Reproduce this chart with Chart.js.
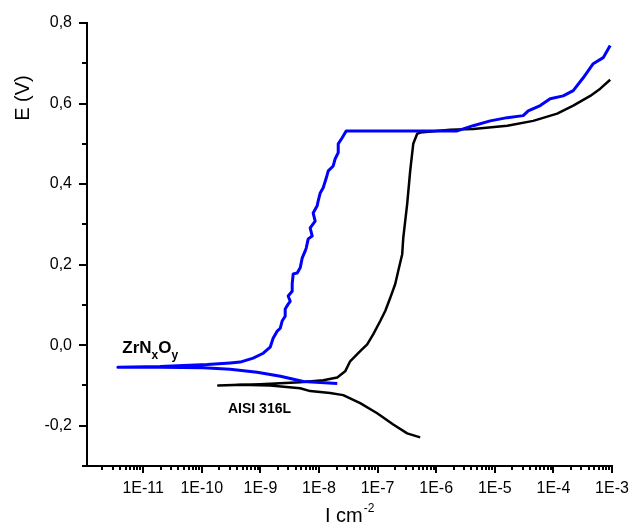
<!DOCTYPE html>
<html>
<head>
<meta charset="utf-8">
<title>Polarization curves</title>
<script src="https://cdn.jsdelivr.net/npm/chart.js@4/dist/chart.umd.min.js"></script>
<style>
  html, body { margin: 0; padding: 0; background: #fff; }
  #wrap { width: 629px; height: 531px; }
</style>
</head>
<body>
<div id="wrap"><canvas id="polChart" width="629" height="531"></canvas></div>
<script>
// ZrNxOy coating: cathodic branch (traced right to left), then anodic branch
var zrnCurrent = [
  2.05e-8, 5.4e-9, 2.2e-9, 8.8e-10, 3.05e-10, 1.06e-10, 1.95e-11, 3.7e-12,
  1.95e-11, 1.24e-10, 3.05e-10, 4.52e-10, 7.53e-10, 1.12e-9, 1.47e-9, 1.65e-9,
  1.94e-9, 2.18e-9, 2.35e-9, 2.65e-9, 2.65e-9, 2.98e-9, 3.23e-9, 2.98e-9,
  3.49e-9, 3.49e-9, 3.63e-9, 4.25e-9, 4.78e-9, 5.16e-9, 5.82e-9, 6.05e-9,
  6.55e-9, 7.66e-9, 7.08e-9, 8.61e-9, 7.96e-9, 9.31e-9, 9.68e-9, 1.05e-8,
  1.18e-8, 1.33e-8, 1.44e-8, 1.75e-8, 1.89e-8, 2.13e-8, 2.13e-8, 2.49e-8,
  2.91e-8, 2.28e-6, 4.28e-6, 8.36e-6, 1.63e-5, 3.05e-5, 3.72e-5, 5.96e-5,
  8.81e-5, 1.47e-4, 2.18e-4, 3.23e-4, 4.78e-4, 7.08e-4, 9.31e-4
];
var zrnPotential = [
  -0.095, -0.090, -0.077, -0.067, -0.060, -0.056, -0.055, -0.055,
  -0.053, -0.048, -0.044, -0.042, -0.032, -0.020, -0.005, 0.017,
  0.035, 0.042, 0.060, 0.072, 0.090, 0.102, 0.109, 0.122,
  0.134, 0.152, 0.177, 0.179, 0.192, 0.216, 0.234, 0.241,
  0.264, 0.271, 0.291, 0.308, 0.328, 0.346, 0.358, 0.378,
  0.391, 0.415, 0.433, 0.445, 0.463, 0.478, 0.500, 0.515,
  0.532, 0.532, 0.545, 0.557, 0.565, 0.570, 0.582, 0.595,
  0.612, 0.619, 0.632, 0.664, 0.699, 0.714, 0.744
];

// AISI 316L substrate: cathodic branch (right to left), then anodic branch
var aisiCurrent = [
  5.33e-7, 3.2e-7, 1.85e-7, 9.84e-8, 5.05e-8, 2.59e-8, 1.55e-8, 7.08e-9,
  4.78e-9, 1.47e-9, 4.52e-10, 1.91e-10,
  9.9e-10, 4.78e-9, 1.18e-8, 2.05e-8, 2.8e-8, 3.4e-8, 5.05e-8, 6.65e-8,
  8.41e-8, 1.11e-7, 1.35e-7, 1.64e-7, 2.0e-7, 2.25e-7, 2.63e-7, 2.74e-7,
  3.2e-7, 3.6e-7, 4.06e-7, 4.74e-7, 5.33e-7, 1.73e-6, 4.28e-6, 1.63e-5,
  4.52e-5, 1.16e-4, 2.18e-4, 4.25e-4, 6.3e-4, 9.31e-4
];
var aisiPotential = [
  -0.229, -0.219, -0.197, -0.169, -0.144, -0.124, -0.119, -0.114,
  -0.107, -0.100, -0.098, -0.100,
  -0.097, -0.092, -0.087, -0.080, -0.065, -0.040, -0.015, 0.002,
  0.027, 0.060, 0.085, 0.117, 0.152, 0.184, 0.226, 0.266,
  0.351, 0.433, 0.500, 0.525, 0.528, 0.535, 0.537, 0.545,
  0.557, 0.575, 0.595, 0.619, 0.637, 0.659
];

var seriesNames = ['ZrNxOy', 'AISI 316L'];
var seriesColors = ['#0000ff', '#000000'];

var FONT = '"Liberation Sans", Arial, sans-serif';

function toPoints(xs, ys) {
  return xs.map(function (x, i) { return { x: x, y: ys[i] }; });
}

function isDecade(v) {
  var l = Math.log10(v);
  return Math.abs(l - Math.round(l)) < 1e-6;
}

// tick marks (long at labelled ticks), axis titles and curve labels
var decorations = {
  id: 'decorations',
  afterDraw: function (chart) {
    var ctx = chart.ctx;
    var xs = chart.scales.x, ys = chart.scales.y;
    ctx.save();
    ctx.strokeStyle = '#000';
    ctx.lineWidth = 2;
    ctx.beginPath();
    xs.ticks.forEach(function (t) {
      var e = Math.floor(Math.log10(t.value) + 1e-9);
      var m = t.value / Math.pow(10, e);
      if (Math.abs(m - Math.round(m)) > 1e-6) return;
      var px = Math.round(xs.getPixelForValue(t.value));
      var len = Math.round(m) === 1 ? 7 : 4;
      ctx.moveTo(px, xs.top);
      ctx.lineTo(px, xs.top + len);
    });
    ys.ticks.forEach(function (t) {
      var k = Math.round(t.value * 10);
      var py = Math.round(ys.getPixelForValue(t.value));
      var len = k % 2 === 0 ? 8 : 5;
      ctx.moveTo(ys.right - len, py);
      ctx.lineTo(ys.right, py);
    });
    ctx.stroke();

    ctx.fillStyle = '#000';
    // y title
    ctx.save();
    ctx.translate(23, 98);
    ctx.rotate(-Math.PI / 2);
    ctx.font = '20px ' + FONT;
    ctx.textAlign = 'center';
    ctx.textBaseline = 'middle';
    ctx.fillText('E (V)', 0, 0);
    ctx.restore();

    // x title with superscript
    ctx.textAlign = 'left';
    ctx.textBaseline = 'alphabetic';
    ctx.font = '20px ' + FONT;
    var base = 'I cm';
    var bx = 325, by = 522;
    ctx.fillText(base, bx, by);
    var w = ctx.measureText(base).width;
    ctx.font = '12px ' + FONT;
    ctx.fillText('-2', bx + w + 1, by - 10);

    // curve labels
    var lx = xs.getPixelForValue(4.4e-12), ly = ys.getPixelForValue(-0.02);
    var parts = [['ZrN', 17, 0], ['x', 12, 6], ['O', 17, 0], ['y', 12, 6]];
    parts.forEach(function (p) {
      ctx.font = 'bold ' + p[1] + 'px ' + FONT;
      ctx.fillText(p[0], lx, ly + p[2]);
      lx += ctx.measureText(p[0]).width;
    });
    ctx.font = 'bold 14px ' + FONT;
    ctx.fillText('AISI 316L', xs.getPixelForValue(2.8e-10), ys.getPixelForValue(-0.169));
    ctx.restore();
  }
};

new Chart(document.getElementById('polChart'), {
  type: 'scatter',
  data: {
    datasets: [
      {
        label: seriesNames[0],
        data: toPoints(zrnCurrent, zrnPotential),
        showLine: true,
        borderColor: seriesColors[0],
        borderWidth: 3,
        borderJoinStyle: 'round',
        pointRadius: 0,
        tension: 0
      },
      {
        label: seriesNames[1],
        data: toPoints(aisiCurrent, aisiPotential),
        showLine: true,
        borderColor: seriesColors[1],
        borderWidth: 2.5,
        borderJoinStyle: 'round',
        pointRadius: 0,
        tension: 0
      }
    ]
  },
  options: {
    responsive: false,
    animation: false,
    devicePixelRatio: 1,
    layout: { padding: { top: 23, right: 17, left: 0, bottom: 0 } },
    plugins: {
      legend: { display: false },
      tooltip: { enabled: false }
    },
    scales: {
      x: {
        type: 'logarithmic',
        min: 1.1e-12,
        max: 1e-3,
        afterFit: function (s) {
          s.height = 65;
          s.paddingLeft = 0;
          s.paddingRight = 0;
        },
        grid: { display: false, drawTicks: false },
        border: { display: true, color: '#000', width: 2 },
        ticks: {
          autoSkip: false,
          maxRotation: 0,
          minRotation: 0,
          padding: 13,
          color: '#000',
          font: { family: FONT, size: 16 },
          callback: function (v) {
            if (!isDecade(v)) return '';
            return '1E' + Math.round(Math.log10(v));
          }
        }
      },
      y: {
        min: -0.3,
        max: 0.8,
        afterFit: function (s) {
          s.width = 87;
          s.paddingTop = 0;
          s.paddingBottom = 0;
        },
        grid: { display: false, drawTicks: false },
        border: { display: true, color: '#000', width: 2 },
        ticks: {
          stepSize: 0.1,
          autoSkip: false,
          padding: 15,
          color: '#000',
          font: { family: FONT, size: 16 },
          callback: function (v) {
            var k = Math.round(v * 10);
            if (k % 2 !== 0) return '';
            return (k / 10).toFixed(1).replace('.', ',');
          }
        }
      }
    }
  },
  plugins: [decorations]
});
</script>
</body>
</html>
